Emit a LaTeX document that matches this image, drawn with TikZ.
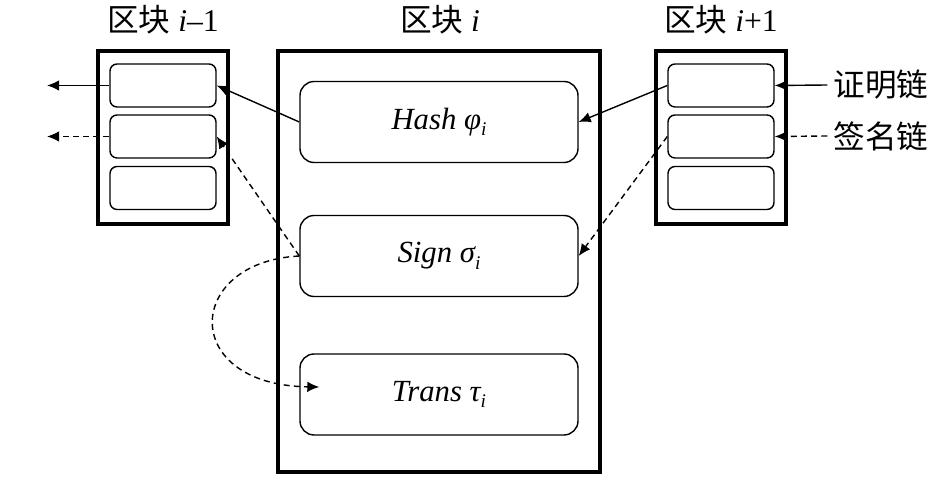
\documentclass[tikz,border=0pt]{standalone}
\usepackage{fontspec}
\setmainfont{Liberation Serif}
\newfontfamily\cjk{Noto Sans CJK SC}
\usepackage{tikz}
\usetikzlibrary{arrows.meta,positioning,calc}
\newcommand{\idx}[1]{\raisebox{-0.45ex}{\fontsize{11}{11}\selectfont\itshape #1}}

\begin{document}
\begin{tikzpicture}[
  block/.style={draw,line width=2.2pt,minimum width=2.6cm,minimum height=3.46cm,inner sep=0pt},
  slot/.style={draw,line width=0.8pt,rounded corners=4pt,minimum width=2.12cm,minimum height=0.86cm,inner sep=0pt},
  field/.style={draw,line width=0.8pt,rounded corners=8pt,minimum width=5.56cm,minimum height=1.62cm,inner sep=0pt,
    font=\fontsize{17.5}{20}\selectfont\itshape},
  ttl/.style={font=\fontsize{18}{21}\selectfont},
  arr/.style={-{Latex[length=2.4mm,width=2.1mm]},line width=0.8pt},
  darr/.style={arr,dash pattern=on 3.4pt off 2.4pt}]
  \useasboundingbox (0,0) rectangle (18.9,9.56);
  % the three blocks
  \node[block] (L) at (3.26,6.81) {};
  \node[block,minimum width=6.44cm,minimum height=8.42cm] (M) at (8.78,4.33) {};
  \node[block] (R) at (14.42,6.81) {};
  \node[ttl] (tL) at (3.26,9.16) {{\cjk 区块} \textit{i}--1};
  \node[ttl] (tM) at (8.8,9.16) {{\cjk 区块} \textit{i}};
  \node[ttl] (tR) at (14.42,9.16) {{\cjk 区块} \textit{i}+1};
  \node[slot] (lp1) at (3.26,7.85) {};
  \node[slot] (lp2) at (3.26,6.83) {};
  \node[slot] (lp3) at (3.26,5.80) {};
  \node[slot] (rp1) at (14.42,7.85) {};
  \node[slot] (rp2) at (14.42,6.83) {};
  \node[slot] (rp3) at (14.42,5.80) {};
  \node[field] (hash) at (8.78,7.12) {Hash φ\idx{i}\hspace{6pt}};
  \node[field] (sign) at (8.78,4.44) {Sign σ\idx{i}\hspace{6pt}};
  \node[field] (trans) at (8.78,1.67) {Trans τ\idx{i}\hspace{6pt}};
  \node[ttl] (proof) at (17.62,7.86) {\cjk 证明链};
  \node[ttl] (chain) at (17.62,6.84) {\cjk 签名链};
  \coordinate (out1) at (0.94,7.85);
  \coordinate (out2) at (0.94,6.83);
  % links
  \draw[arr] (lp1.west) -- (out1);
  \draw[darr] (lp2.west) -- (out2);
  \draw[arr] (hash.west) -- (lp1.east);
  \draw[darr] (sign.west) -- (lp2.east);
  \draw[arr] (rp1.west) -- (hash.east);
  \draw[darr] (rp2.west) -- (sign.east);
  \draw[arr] (proof.west) -- (rp1.east);
  \draw[darr] (chain.west) -- (rp2.east);
  \draw[darr] (sign.west) .. controls +(-2.3,-0.12) and +(-2.8,0.04) .. ([shift={(0.4,0.15)}]trans.west);
\end{tikzpicture}
\end{document}
